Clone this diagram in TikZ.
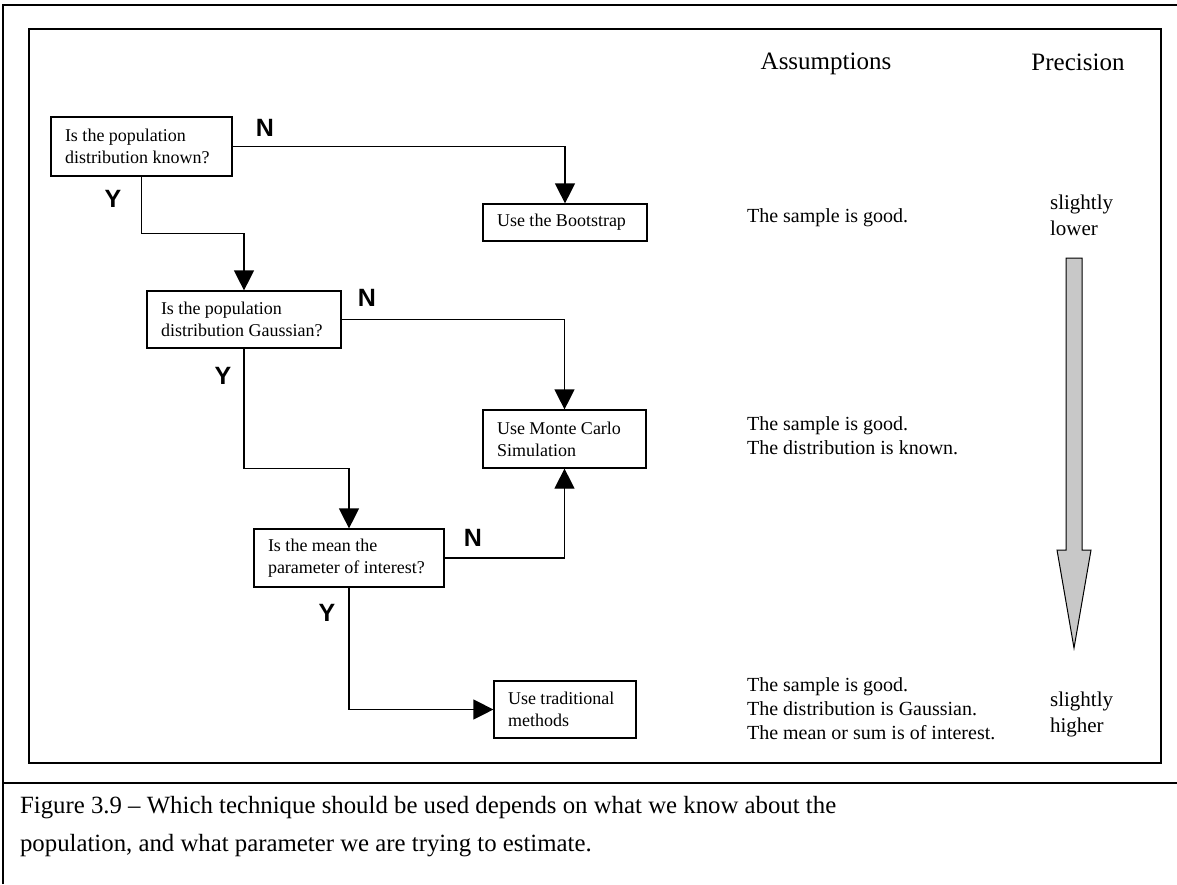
\documentclass[tikz,border=0pt]{standalone}
\usepackage{fontspec}
\setmainfont{Liberation Serif}
\newfontfamily\ynfont{Liberation Sans}
\usetikzlibrary{arrows.meta}
\definecolor{arrowgray}{RGB}{200,200,200}
\begin{document}
\begin{tikzpicture}[x=0.5pt,y=-0.5pt]
	\tikzset{qbox/.style 2 args={draw, line width=0.6pt, align=flush left, inner xsep=7pt, inner ysep=0pt, text width=#1, minimum height=#2, font=\fontsize{9}{11}\selectfont},
		yn/.style={font=\ynfont\bfseries\fontsize{12.5}{14}\selectfont},
		flow/.style={-{Triangle[length=10pt,width=10pt]}, line width=0.6pt},
		note/.style={anchor=west, align=left, font=\fontsize{10}{12}\selectfont},
		head/.style={font=\fontsize{12.5}{15}\selectfont}}
	\useasboundingbox (0,0) rectangle (1177,884);
	% frames
	\draw[line width=1.3pt] (3,884) -- (3,5) -- (1177,5);
	\draw[line width=1pt] (3,783) -- (1177,783);
	\draw[line width=0.8pt] (29,29) rectangle (1161,763);
	% decision boxes
	\node[qbox={76.5pt}{29.5pt}] (q1)   at (141.5,146.5) {Is the population\\distribution known?};
	\node[qbox={68pt}{18.5pt}]   (boot) at (565,222.5)   {Use the Bootstrap};
	\node[qbox={83pt}{28.5pt}]   (q2)   at (244,319.5)   {Is the population\\distribution Gaussian?};
	\node[qbox={67.5pt}{29pt}]   (mc)   at (564.5,439)   {Use Monte Carlo\\Simulation};
	\node[qbox={81pt}{29pt}]     (q3)   at (349,558)     {Is the mean the\\parameter of interest?};
	\node[qbox={57pt}{28.5pt}]   (trad) at (565,709.5)   {Use traditional\\methods};
	% connectors
	\draw[flow] (q1.east) -| (boot.north);
	\draw[flow] (q1.south) -- ++(0,57) -| (q2.north);
	\draw[flow] (q2.east) -| (mc.north);
	\draw[flow] (q2.south) -- ++(0,120) -| (q3.north);
	\draw[flow] (q3.east) -| (mc.south);
	\draw[flow] (q3.south) |- (trad.west);
	% Y / N labels
	\node[yn] (n1) at (265,128) {N};
	\node[yn] (y1) at (113,199) {Y};
	\node[yn] (n2) at (367,298) {N};
	\node[yn] (y2) at (223,376) {Y};
	\node[yn] (n3) at (473,538) {N};
	\node[yn] (y3) at (327,613) {Y};
	% right columns
	\node[head] (hass) at (826,64) {Assumptions};
	\node[head] (hpre) at (1078,62) {Precision};
	\node[note] (a1) at (740,218) {The sample is good.};
	\node[note] (a2) at (740,435.5) {The sample is good.\\The distribution is known.};
	\node[note] (a3) at (740,709) {The sample is good.\\The distribution is Gaussian.\\The mean or sum is of interest.};
	\node[note, font=\fontsize{10.5}{13}\selectfont] (plow) at (1043,215) {slightly\\lower};
	\node[note, font=\fontsize{10.5}{13}\selectfont] (phigh) at (1043,714) {slightly\\higher};
	\draw[fill=arrowgray, line width=0.5pt] (1066,258) -- (1082,258) -- (1082,550) -- (1091,550) -- (1074,648) -- (1057,550) -- (1066,550) -- cycle;
	% caption
	\node[anchor=west, align=left, font=\fontsize{12.4}{19}\selectfont] (cap) at (13,827) {Figure 3.9 -- Which technique should be used depends on what we know about the\\population, and what parameter we are trying to estimate.};
\end{tikzpicture}
\end{document}
